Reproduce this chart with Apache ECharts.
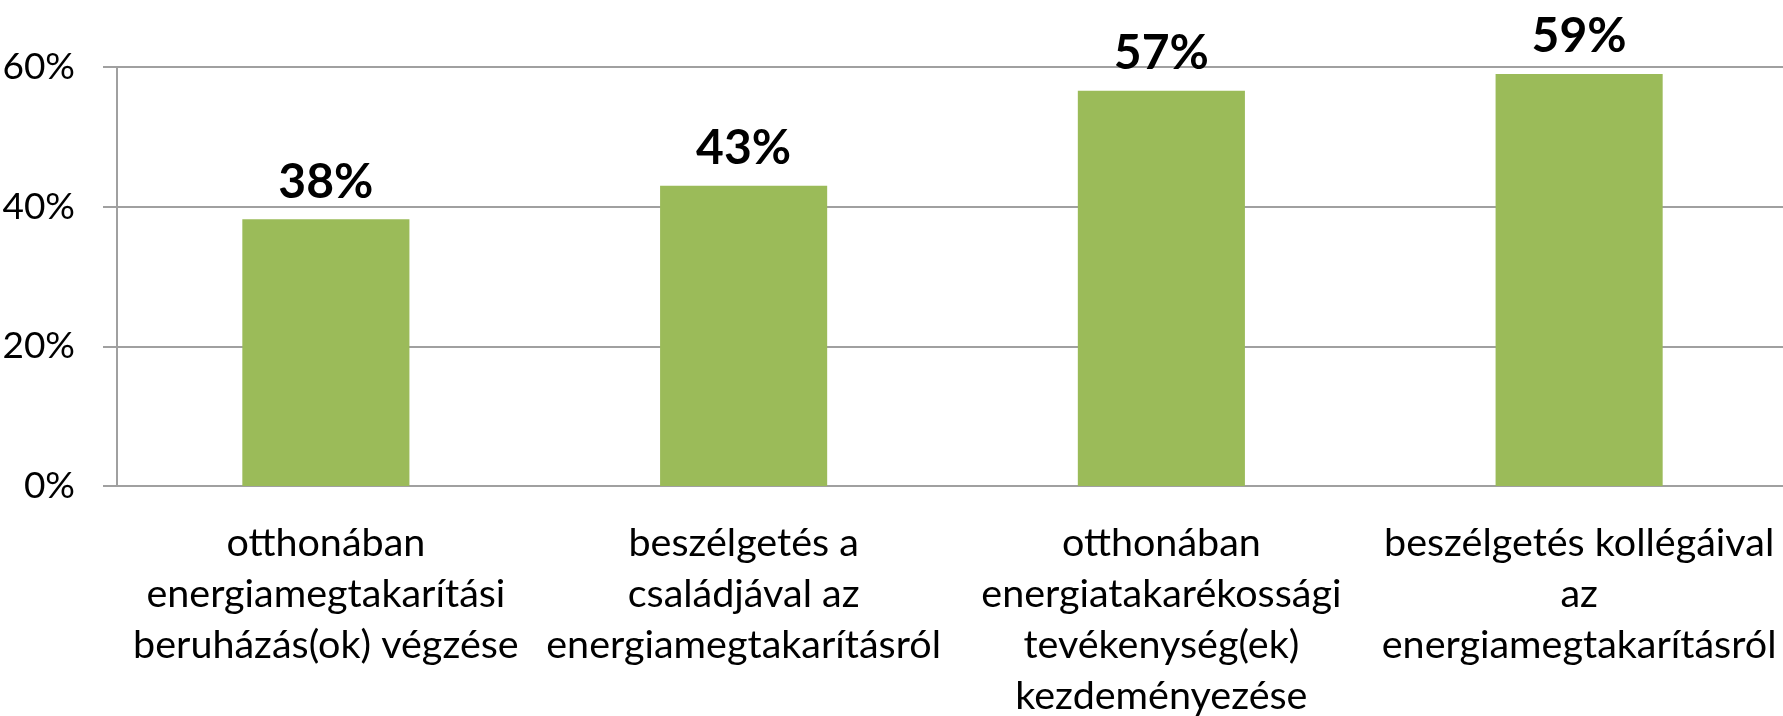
<!DOCTYPE html>
<html>
<head>
<meta charset="utf-8">
<script src="https://cdn.jsdelivr.net/npm/echarts@6/dist/echarts.min.js"></script>
<style>
  html, body { margin: 0; padding: 0; background: #fff; }
  #chart { width: 1783px; height: 716px; }
</style>
</head>
<body>
<div id="chart"></div>
<script>
const categories = [
  'otthonában\nenergiamegtakarítási\nberuházás(ok) végzése',
  'beszélgetés a\ncsaládjával az\nenergiamegtakarításról',
  'otthonában\nenergiatakarékossági\ntevékenység(ek)\nkezdeményezése',
  'beszélgetés kollégáival\naz\nenergiamegtakarításról',
];
const shares = [38.2, 43.0, 56.6, 59.0];
const yTicks = { min: 0, max: 60, interval: 20 };

const gray = '#a0a0a0';
const font = 'Lato, "Noto Sans", sans-serif';

const chart = echarts.init(document.getElementById('chart'));
chart.setOption({
  animation: false,
  grid: {
    left: 117, right: -5, top: 67, bottom: 230,
    containLabel: false,
    outerBoundsMode: 'none',
  },
  xAxis: {
    type: 'category',
    data: categories,
    axisLine: { lineStyle: { color: gray, width: 2 } },
    axisTick: { length: 13, lineStyle: { color: gray, width: 2 } },
    axisLabel: {
      interval: 0,
      margin: 32,
      color: '#000',
      fontFamily: font,
      fontSize: 39.5,
      lineHeight: 51,
      align: 'center',
    },
  },
  yAxis: {
    type: 'value',
    min: yTicks.min,
    max: yTicks.max,
    interval: yTicks.interval,
    axisLine: { show: true, lineStyle: { color: gray, width: 2 } },
    axisTick: { show: true, length: 14, lineStyle: { color: gray, width: 2 } },
    splitLine: { lineStyle: { color: gray, width: 2 } },
    axisLabel: {
      margin: 42,
      color: '#000',
      fontFamily: font,
      fontSize: 37,
      formatter: '{value}%',
    },
  },
  series: [{
    type: 'bar',
    data: shares,
    barWidth: '40%',
    itemStyle: { color: '#9bbb59' },
    label: {
      show: true,
      position: 'top',
      distance: 13,
      color: '#000',
      fontFamily: font,
      fontWeight: 'bold',
      fontSize: 48,
      formatter: (p) => Math.round(p.value) + '%',
    },
  }],
});
</script>
</body>
</html>
